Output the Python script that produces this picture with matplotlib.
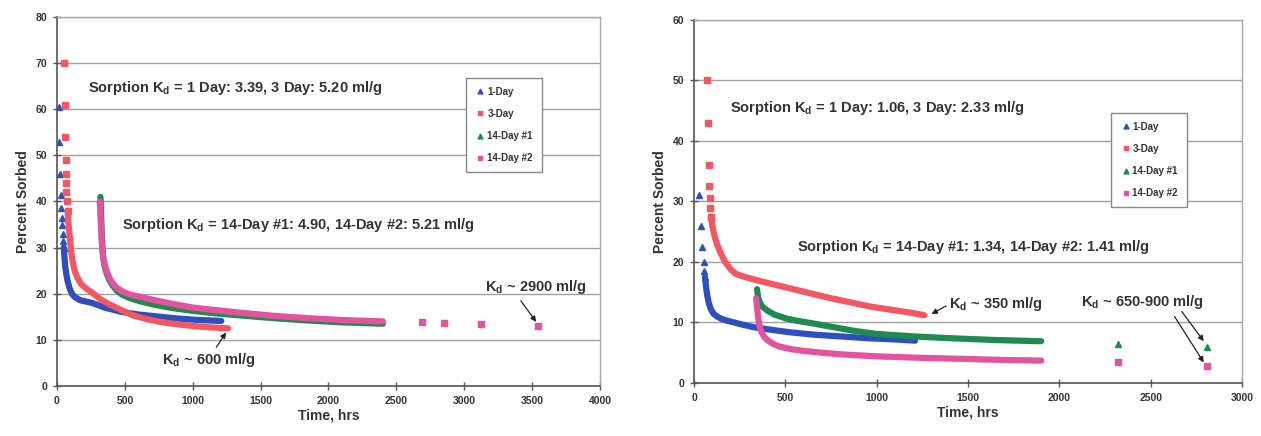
import matplotlib
matplotlib.use("Agg")
import matplotlib.pyplot as plt
from matplotlib.lines import Line2D

plt.rcParams['font.family'] = ['Liberation Sans', 'DejaVu Sans']
plt.rcParams['mathtext.fontset'] = 'custom'
plt.rcParams['mathtext.rm'] = 'Liberation Sans:bold'
plt.rcParams['mathtext.bf'] = 'Liberation Sans:bold'

BLUE = '#2f4fbf'
RED = '#f25763'
GREEN = '#1f8a52'
PINK = '#e2549e'
TXT = '#333333'

# ---------------- left panel data (hrs, percent sorbed) ----------------
L_1day_early_t = [12, 18, 22, 26, 30, 34, 38, 42, 46, 50]
L_1day_early_y = [60.5, 53, 46, 41.5, 38.5, 36.5, 35, 33, 31.5, 30]
L_1day_t = [50, 55, 60, 70, 80, 95, 110, 130, 170, 260, 350, 470, 600, 760, 900, 1050, 1210]
L_1day_y = [30, 28, 26, 24, 22.5, 21, 20, 19.3, 18.6, 18.0, 17.0, 16.1, 15.5, 15.0, 14.6, 14.3, 14.1]

L_3day_early_t = [48, 58, 62, 64, 66, 68, 70, 74, 78]
L_3day_early_y = [70, 61, 54, 49, 46, 44, 42, 40, 38]
L_3day_t = [78, 85, 95, 105, 115, 130, 150, 180, 220, 260, 320, 400, 470, 560, 660, 760, 880, 1000, 1130, 1260]
L_3day_y = [38, 35, 32, 29, 27, 25, 23.5, 22, 21, 20.2, 18.8, 17.5, 16.5, 15.3, 14.5, 13.9, 13.4, 13.0, 12.7, 12.5]

L_14d1_t = [320, 325, 330, 335, 340, 350, 365, 385, 410, 440, 480, 540, 620, 720, 850, 1000, 1150, 1350, 1600, 1850, 2100, 2400]
L_14d1_y = [41, 37, 33, 30, 28, 26, 24.5, 23, 21.8, 20.7, 19.8, 19, 18.3, 17.6, 16.9, 16.3, 15.8, 15.3, 14.7, 14.2, 13.8, 13.5]

L_14d2_t = [315, 320, 325, 330, 340, 350, 365, 385, 410, 440, 480, 540, 620, 720, 850, 1000, 1150, 1350, 1600, 1850, 2100, 2400]
L_14d2_y = [40, 37, 34, 31, 28, 26.5, 25, 23.5, 22.3, 21.3, 20.5, 19.8, 19.3, 18.6, 17.8, 17.0, 16.5, 15.9, 15.2, 14.7, 14.3, 14.0]
L_14d2_late_t = [2690, 2850, 3120, 3540]
L_14d2_late_y = [13.8, 13.6, 13.5, 13.0]

# ---------------- right panel data ----------------
R_1day_early_t = [28, 38, 46, 52, 56, 60]
R_1day_early_y = [31, 26, 22.5, 20, 18.5, 17.5]
R_1day_t = [60, 65, 72, 80, 90, 105, 125, 150, 180, 220, 270, 330, 420, 520, 650, 800, 950, 1100, 1210]
R_1day_y = [17.5, 16, 14.5, 13.3, 12.3, 11.5, 11, 10.6, 10.3, 10, 9.6, 9.2, 8.8, 8.4, 8.0, 7.7, 7.4, 7.2, 7.0]

R_3day_early_t = [70, 76, 80, 82, 85, 88, 92]
R_3day_early_y = [50, 43, 36, 32.5, 30.5, 29, 27.5]
R_3day_t = [92, 100, 110, 125, 145, 170, 200, 230, 280, 380, 530, 750, 970, 1190, 1260]
R_3day_y = [27.5, 26, 24.5, 23, 21.5, 20, 18.8, 18, 17.5, 16.7, 15.6, 14.0, 12.6, 11.6, 11.2]

R_14d1_t = [345, 350, 360, 375, 400, 440, 500, 560, 640, 750, 880, 1000, 1200, 1400, 1650, 1900]
R_14d1_y = [15.5, 14.2, 13.3, 12.6, 12.0, 11.3, 10.7, 10.3, 9.9, 9.3, 8.6, 8.1, 7.7, 7.4, 7.1, 6.9]
R_14d1_late_t = [2320, 2810]
R_14d1_late_y = [6.5, 6.0]

R_14d2_t = [340, 345, 350, 355, 362, 370, 385, 405, 430, 470, 530, 600, 700, 820, 1000, 1200, 1450, 1700, 1900]
R_14d2_y = [14, 12.5, 11, 10, 9, 8.3, 7.6, 7, 6.5, 6, 5.6, 5.3, 5, 4.7, 4.4, 4.2, 4.0, 3.8, 3.7]
R_14d2_late_t = [2320, 2810]
R_14d2_late_y = [3.4, 2.8]

labels = ['1-Day', '3-Day', '14-Day #1', '14-Day #2']
colors = [BLUE, RED, GREEN, PINK]
markers = ['^', 's', '^', 's']

fig = plt.figure(figsize=(12.61, 4.36), dpi=100)
axL = fig.add_axes([0.0452, 0.1147, 0.4306, 0.8463])
axR = fig.add_axes([0.5504, 0.1216, 0.4346, 0.8326])


def style_axes(ax, xmax, xstep, ymax):
    ax.set_xlim(0, xmax)
    ax.set_ylim(0, ymax)
    ax.set_xticks(range(0, xmax + 1, xstep))
    ax.set_yticks(range(0, ymax + 1, 10))
    ax.yaxis.grid(True, color='#a0a0a0', lw=1.0)
    ax.set_axisbelow(True)
    for s in ['top', 'right']:
        ax.spines[s].set_color('#a8a8a8')
        ax.spines[s].set_linewidth(1.0)
    for s in ['left', 'bottom']:
        ax.spines[s].set_color('#555555')
        ax.spines[s].set_linewidth(1.2)
    ax.tick_params(direction='inout', length=6, width=1, colors='#555555',
                   labelsize=7.5, labelcolor=TXT, pad=4)
    for lab in ax.get_xticklabels() + ax.get_yticklabels():
        lab.set_fontweight('bold')
    ax.set_xlabel('Time, hrs', fontsize=10, fontweight='bold', color=TXT, labelpad=2)
    ax.set_ylabel('Percent Sorbed', fontsize=10, fontweight='bold', color=TXT, labelpad=4)


def curve(ax, t, y, c):
    ax.plot(t, y, color=c, lw=4.5, solid_capstyle='round', solid_joinstyle='round')


def pts(ax, t, y, c, m):
    ax.plot(t, y, ls='none', marker=m, ms=4, color=c, mec=c)


def legend(ax, x0, y0):
    handles = [Line2D([], [], ls='none', marker=m, ms=3.5, color=c)
               for m, c in zip(markers, colors)]
    leg = ax.legend(handles, labels, loc='upper left', bbox_to_anchor=(x0, y0),
                    fontsize=7, frameon=True, fancybox=False, framealpha=1,
                    edgecolor='#888888', labelspacing=1.25, handletextpad=0.1,
                    handlelength=1.2, borderpad=0.9, borderaxespad=0)
    leg.get_frame().set_linewidth(1.0)
    for t in leg.get_texts():
        t.set_fontweight('bold')
        t.set_color(TXT)


# ---------------- left panel ----------------
style_axes(axL, 4000, 500, 80)
curve(axL, L_1day_t, L_1day_y, BLUE)
pts(axL, L_1day_early_t, L_1day_early_y, BLUE, '^')
curve(axL, L_3day_t, L_3day_y, RED)
pts(axL, L_3day_early_t, L_3day_early_y, RED, 's')
curve(axL, L_14d1_t, L_14d1_y, GREEN)
curve(axL, L_14d2_t, L_14d2_y, PINK)
pts(axL, L_14d2_late_t, L_14d2_late_y, PINK, 's')
legend(axL, 0.753, 0.835)

tk = dict(fontsize=10.5, fontweight='bold', color=TXT, va='center')
axL.text(230, 64.6, r'Sorption K$_\mathbf{d}$ = 1 Day: 3.39, 3 Day: 5.20 ml/g', **tk)
axL.text(480, 35.0, r'Sorption K$_\mathbf{d}$ = 14-Day #1: 4.90, 14-Day #2: 5.21 ml/g', **tk)
axL.annotate(r'K$_\mathbf{d}$ ~ 2900 ml/g', xy=(3530, 13.9), xytext=(3900, 21.5),
             ha='right', arrowprops=dict(arrowstyle='-|>', color='#222222', lw=0.9,
                                         mutation_scale=8, shrinkA=2, shrinkB=0,
                                         relpos=(0.32, 0)), **tk)
axL.annotate(r'K$_\mathbf{d}$ ~ 600 ml/g', xy=(1245, 11.6), xytext=(1120, 5.6),
             ha='center', arrowprops=dict(arrowstyle='-|>', color='#222222', lw=0.9,
                                          mutation_scale=8, shrinkA=1, shrinkB=0,
                                          relpos=(0.55, 1)), **tk)

# ---------------- right panel ----------------
style_axes(axR, 3000, 500, 60)
curve(axR, R_1day_t, R_1day_y, BLUE)
pts(axR, R_1day_early_t, R_1day_early_y, BLUE, '^')
curve(axR, R_3day_t, R_3day_y, RED)
pts(axR, R_3day_early_t, R_3day_early_y, RED, 's')
curve(axR, R_14d1_t, R_14d1_y, GREEN)
pts(axR, R_14d1_late_t, R_14d1_late_y, GREEN, '^')
curve(axR, R_14d2_t, R_14d2_y, PINK)
pts(axR, R_14d2_late_t, R_14d2_late_y, PINK, 's')
legend(axR, 0.761, 0.744)

axR.text(197, 45.5, r'Sorption K$_\mathbf{d}$ = 1 Day: 1.06, 3 Day: 2.33 ml/g', **tk)
axR.text(564, 22.5, r'Sorption K$_\mathbf{d}$ = 14-Day #1: 1.34, 14-Day #2: 1.41 ml/g', **tk)
axR.annotate(r'K$_\mathbf{d}$ ~ 350 ml/g', xy=(1300, 11.4), xytext=(1395, 13.0),
             ha='left', arrowprops=dict(arrowstyle='-|>', color='#222222', lw=0.9,
                                        mutation_scale=8, shrinkA=0, shrinkB=0,
                                        relpos=(0, 0.5)), **tk)
axR.text(2117, 13.4, r'K$_\mathbf{d}$ ~ 650-900 ml/g', **tk)
axR.annotate('', xy=(2790, 6.9), xytext=(2670, 11.8),
             arrowprops=dict(arrowstyle='-|>', color='#222222', lw=0.9,
                             mutation_scale=8, shrinkA=0, shrinkB=0))
axR.annotate('', xy=(2790, 3.4), xytext=(2630, 11.0),
             arrowprops=dict(arrowstyle='-|>', color='#222222', lw=0.9,
                             mutation_scale=8, shrinkA=0, shrinkB=0))

fig.savefig('out.png', dpi=100, facecolor='white')
